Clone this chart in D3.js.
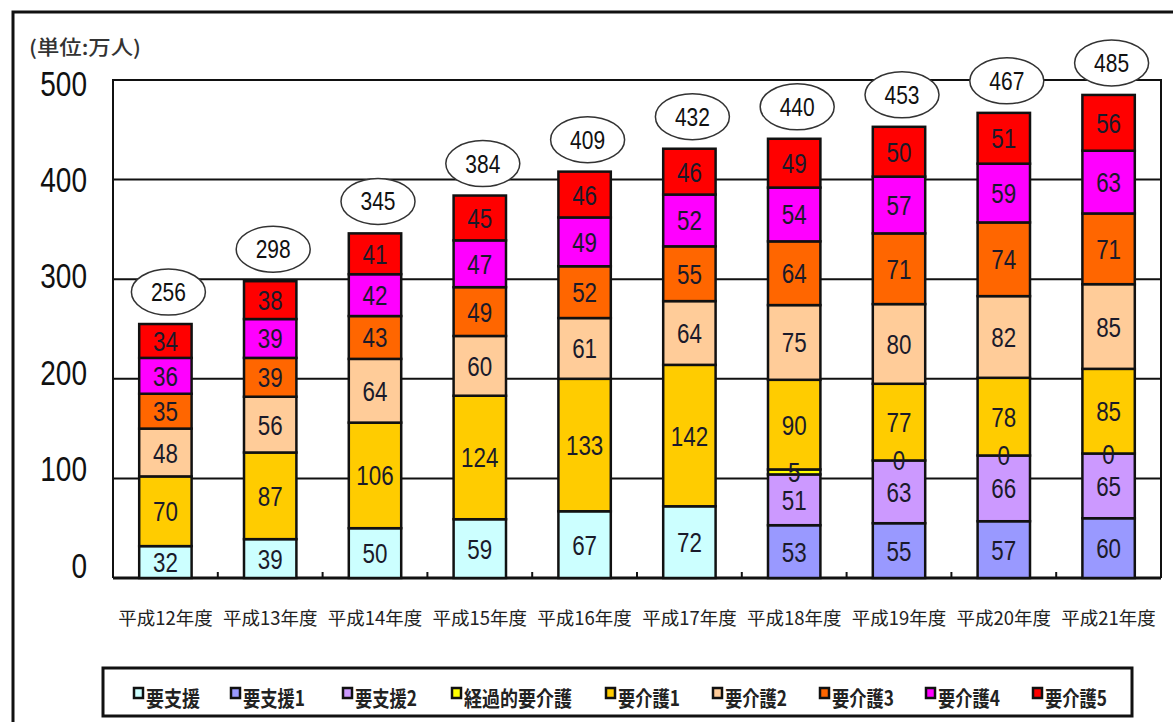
<!DOCTYPE html>
<html>
<head>
<meta charset="utf-8">
<script src="https://cdn.jsdelivr.net/npm/d3@7"></script>
<style>
  body { margin: 0; background: #fff; }
  svg { display: block; }
</style>
</head>
<body>
<script>
const years = ['平成12年度', '平成13年度', '平成14年度', '平成15年度', '平成16年度',
  '平成17年度', '平成18年度', '平成19年度', '平成20年度', '平成21年度']
const seriesNames = ['要支援', '要支援1', '要支援2', '経過的要介護', '要介護1', '要介護2', '要介護3', '要介護4', '要介護5']
const seriesColors = ['#ccffff', '#9999ff', '#cc99ff', '#ffff00', '#ffcc00', '#ffcc99', '#ff6600', '#ff00ff', '#ff0000']
// null = category not present that year (no label)
const yoshien = [32, 39, 50, 59, 67, 72, null, null, null, null]
const yoshien1 = [null, null, null, null, null, null, 53, 55, 57, 60]
const yoshien2 = [null, null, null, null, null, null, 51, 63, 66, 65]
const keika = [null, null, null, null, null, null, 5, 0, 0, 0]
const kaigo1 = [70, 87, 106, 124, 133, 142, 90, 77, 78, 85]
const kaigo2 = [48, 56, 64, 60, 61, 64, 75, 80, 82, 85]
const kaigo3 = [35, 39, 43, 49, 52, 55, 64, 71, 74, 71]
const kaigo4 = [36, 39, 42, 47, 49, 52, 54, 57, 59, 63]
const kaigo5 = [34, 38, 41, 45, 46, 46, 49, 50, 51, 56]
const totals = [256, 298, 345, 384, 409, 432, 440, 453, 467, 485]
const yTicks = [0, 100, 200, 300, 400, 500]

const seriesValues = [yoshien, yoshien1, yoshien2, keika, kaigo1, kaigo2, kaigo3, kaigo4, kaigo5]

const WIDTH = 1173
const HEIGHT = 722
const LEFT = 113, RIGHT = 1161, TOP = 80, BOTTOM = 578
const NUM_FONT = '"Liberation Sans", Arial, sans-serif'
const JP_FONT = '"Noto Sans CJK JP", "Noto Sans", sans-serif'
const NARROW = 0.8 // numbers in the original are a condensed face

const rows = years.map((y, i) => {
  const r = { year: y }
  seriesNames.forEach((s, j) => { r[s] = seriesValues[j][i] || 0 })
  return r
})

const svg = d3.select('body').append('svg').attr('width', WIDTH).attr('height', HEIGHT)

// outer frame (cut by the picture edge)
svg.append('path')
  .attr('d', `M13,${HEIGHT + 5} L13,12 L${WIDTH + 5},12`)
  .attr('fill', 'none').attr('stroke', '#111').attr('stroke-width', 3)

const x = d3.scaleBand().domain(years).range([LEFT, RIGHT]).paddingInner(0.5).paddingOuter(0.25)
const y = d3.scaleLinear().domain([0, 500]).range([BOTTOM, TOP])
// the tick labels in the original sit on a slightly tighter spacing than the grid
const yLabel = d3.scaleLinear().domain([0, 500]).range([565, 83])

// grid lines + plot border
svg.append('g').selectAll('line')
  .data(yTicks.filter(d => d > 0 && d < 500))
  .enter().append('line')
  .attr('x1', LEFT).attr('x2', RIGHT)
  .attr('y1', d => y(d)).attr('y2', d => y(d))
  .attr('stroke', '#111').attr('stroke-width', 2)
svg.append('path')
  .attr('d', `M${LEFT},${BOTTOM} L${LEFT},${y(500)} L${RIGHT},${y(500)} L${RIGHT},${BOTTOM}`)
  .attr('fill', 'none').attr('stroke', '#111').attr('stroke-width', 2)

// bottom axis with small inner ticks between categories
const step = x.step()
svg.append('line')
  .attr('x1', LEFT).attr('x2', RIGHT).attr('y1', BOTTOM).attr('y2', BOTTOM)
  .attr('stroke', '#111').attr('stroke-width', 3)
svg.append('g').selectAll('line')
  .data(years.slice(1))
  .enter().append('line')
  .attr('x1', d => x(d) - step * 0.25)
  .attr('x2', d => x(d) - step * 0.25)
  .attr('y1', BOTTOM).attr('y2', BOTTOM - 6)
  .attr('stroke', '#111').attr('stroke-width', 2)

// y tick labels
svg.append('g').selectAll('text')
  .data(yTicks)
  .enter().append('text')
  .attr('transform', d => `translate(87,${yLabel(d) + 12.5}) scale(${NARROW},1)`)
  .attr('text-anchor', 'end')
  .attr('font-family', NUM_FONT).attr('font-size', 35)
  .attr('fill', '#111')
  .text(d => d)

svg.append('text')
  .attr('x', 29).attr('y', 55)
  .attr('font-family', JP_FONT).attr('font-size', 20).attr('font-weight', 500)
  .attr('fill', '#333')
  .attr('textLength', 112).attr('lengthAdjust', 'spacingAndGlyphs')
  .text('(単位:万人)')

// stacked bars
const stack = d3.stack().keys(seriesNames)
const layers = stack(rows)

const gBars = svg.append('g')
layers.forEach((layer, j) => {
  gBars.append('g').selectAll('rect')
    .data(layer)
    .enter().append('rect')
    .attr('x', d => x(d.data.year))
    .attr('width', x.bandwidth())
    .attr('y', d => y(d[1]))
    .attr('height', d => y(d[0]) - y(d[1]))
    .attr('fill', seriesColors[j])
    .attr('stroke', '#111').attr('stroke-width', 2.5)
})

// segment labels
layers.forEach((layer, j) => {
  svg.append('g').selectAll('text')
    .data(layer.filter((d, i) => seriesValues[j][i] !== null))
    .enter().append('text')
    .attr('transform', d => `translate(${x(d.data.year) + x.bandwidth() / 2},${(y(d[0]) + y(d[1])) / 2 + 10}) scale(${NARROW},1)`)
    .attr('text-anchor', 'middle')
    .attr('font-family', NUM_FONT).attr('font-size', 28)
    .attr('fill', '#1a1a2a')
    .text(d => d[1] - d[0])
})

// total ellipses
const gTot = svg.append('g')
const topOf = i => d3.max(layers, l => l[i][1])
gTot.selectAll('ellipse')
  .data(totals)
  .enter().append('ellipse')
  .attr('cx', (d, i) => x(years[i]) + x.bandwidth() / 2 + 3)
  .attr('cy', (d, i) => y(topOf(i)) - 32)
  .attr('rx', 37).attr('ry', 23)
  .attr('fill', '#fff').attr('stroke', '#333').attr('stroke-width', 1.5)
gTot.selectAll('text')
  .data(totals)
  .enter().append('text')
  .attr('transform', (d, i) => `translate(${x(years[i]) + x.bandwidth() / 2 + 3},${y(topOf(i)) - 32 + 9}) scale(0.84,1)`)
  .attr('text-anchor', 'middle')
  .attr('font-family', NUM_FONT).attr('font-size', 25)
  .attr('fill', '#111')
  .text(d => d)

// x labels
svg.append('g').selectAll('text')
  .data(years)
  .enter().append('text')
  .attr('x', d => x(d) + x.bandwidth() / 2)
  .attr('y', 625)
  .attr('text-anchor', 'middle')
  .attr('font-family', JP_FONT).attr('font-size', 18.5).attr('font-weight', 400)
  .attr('fill', '#222')
  .text(d => d)

// legend
svg.append('rect')
  .attr('x', 103).attr('y', 668).attr('width', 1029).attr('height', 48)
  .attr('fill', '#fff').attr('stroke', '#111').attr('stroke-width', 3)
const legendX = [133, 230, 342, 451, 605, 712, 819, 925, 1032]
const leg = svg.append('g').selectAll('g')
  .data(seriesNames)
  .enter().append('g')
  .attr('transform', (d, i) => `translate(${legendX[i]}, 688)`)
leg.append('rect')
  .attr('x', 1).attr('y', 0).attr('width', 9).attr('height', 10)
  .attr('fill', (d, i) => seriesColors[i]).attr('stroke', '#111').attr('stroke-width', 2.5)
leg.append('text')
  .attr('x', 13).attr('y', 18)
  .attr('font-family', JP_FONT).attr('font-size', 21).attr('font-weight', 'bold')
  .attr('fill', '#222')
  .attr('textLength', d => d.replace(/\d/g, '').length * 18 + (/\d/.test(d) ? 8 : 0))
  .attr('lengthAdjust', 'spacingAndGlyphs')
  .text(d => d)
</script>
</body>
</html>
